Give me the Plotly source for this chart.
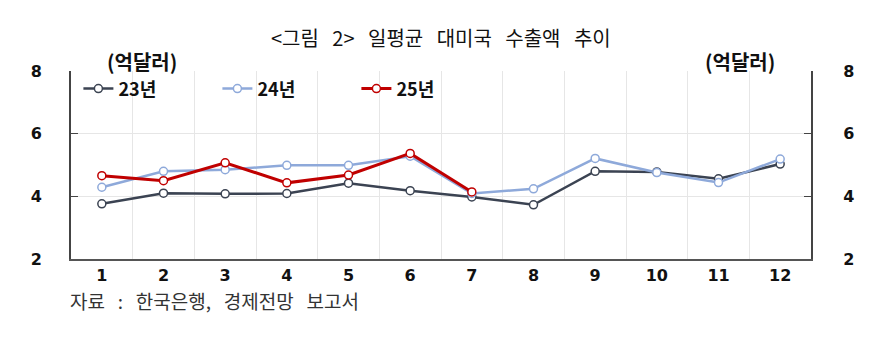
import plotly.graph_objects as go

months = ["1", "2", "3", "4", "5", "6", "7", "8", "9", "10", "11", "12"]
y23 = [3.76, 4.10, 4.08, 4.09, 4.42, 4.18, 3.98, 3.73, 4.80, 4.78, 4.56, 5.03]
y24 = [4.29, 4.80, 4.85, 4.99, 4.99, 5.28, 4.09, 4.24, 5.21, 4.76, 4.44, 5.19]
y25 = [4.66, 4.50, 5.07, 4.43, 4.68, 5.37, 4.14]
series_names = ["23년", "24년", "25년"]
colors = ["#3b4352", "#8ea9da", "#c00000"]
y_ticks = [2, 4, 6, 8]

SP = "\u00a0\u00a0\u00a0"
title_text = SP.join(["<그림", "2>", "일평균", "대미국", "수출액", "추이"])
unit_text = "(억달러)"
source_text = SP.join(["자료", ":", "한국은행,", "경제전망", "보고서"])

KR = "Noto Sans CJK KR"
NUM = "DejaVu Sans"

fig = go.Figure()
for name, ys, col, lw in zip(series_names, [y23, y24, y25], colors, [2.5, 2.5, 3]):
    fig.add_trace(go.Scatter(
        x=months[:len(ys)], y=ys, name=name, mode="lines+markers",
        line=dict(color=col, width=lw),
        marker=dict(symbol="circle", size=8, color="white",
                    line=dict(color=col, width=1.5)),
    ))

# invisible trace to anchor right axis
fig.add_trace(go.Scatter(x=months, y=y23, yaxis="y2", mode="lines",
                         line=dict(color="rgba(0,0,0,0)"), showlegend=False,
                         hoverinfo="skip"))

tickfont = dict(family=NUM, size=16, color="#111", weight="bold")

fig.update_layout(
    width=896, height=340,
    margin=dict(l=71, r=85, t=71, b=81),
    paper_bgcolor="white", plot_bgcolor="white",
    showlegend=True,
    legend=dict(orientation="h", x=0.01, y=0.905, xanchor="left", yanchor="middle",
                font=dict(family=KR, size=18, color="#111", weight="bold"),
                bgcolor="rgba(0,0,0,0)", entrywidth=94, entrywidthmode="pixels",
                itemwidth=30, traceorder="normal"),
    xaxis=dict(type="category", categoryorder="array", categoryarray=months,
               range=[-0.5, 11.5], tickson="boundaries", ticks="",
               showgrid=True, gridcolor="#e6e6e6", gridwidth=1,
               showline=True, linecolor="#555", linewidth=2,
               tickfont=tickfont, ticklabelstandoff=1),
    yaxis=dict(range=[2, 8], tickvals=y_ticks, showgrid=True, gridcolor="#e6e6e6",
               zeroline=False, showline=True, linecolor="#444", linewidth=2,
               ticks="inside", ticklen=7, tickcolor="#444", tickwidth=1,
               tickfont=tickfont, ticklabelstandoff=24),
    yaxis2=dict(range=[2, 8], tickvals=y_ticks, overlaying="y", side="right",
                showgrid=False, zeroline=False, showline=True, linecolor="#444",
                linewidth=2, ticks="inside", ticklen=7, tickcolor="#444", tickwidth=1,
                tickfont=tickfont, ticklabelstandoff=27),
)

fig.add_annotation(text=title_text, x=0.5, y=1.18, xref="paper", yref="paper",
                   xanchor="center", yanchor="middle", showarrow=False,
                   font=dict(family=KR, size=20, color="#111"))
fig.add_annotation(text=unit_text, x=0.096, y=1.05, xref="paper",
                   yref="paper", xanchor="center", yanchor="middle", showarrow=False,
                   font=dict(family=KR, size=20, color="#111", weight="bold"))
fig.add_annotation(text=unit_text, x=0.904, y=1.05, xref="paper",
                   yref="paper", xanchor="center", yanchor="middle", showarrow=False,
                   font=dict(family=KR, size=20, color="#111", weight="bold"))
fig.add_annotation(text=source_text, x=-0.004, y=-0.222, xref="paper", yref="paper",
                   xanchor="left", yanchor="middle", showarrow=False,
                   font=dict(family=KR, size=19, color="#333"))

fig.write_html("out.html")
